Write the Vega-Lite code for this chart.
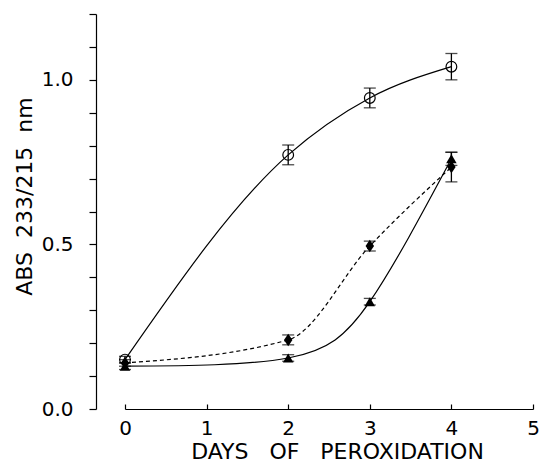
{
  "$schema": "https://vega.github.io/schema/vega-lite/v6.json",
  "width": 408,
  "height": 395,
  "autosize": {"type": "none"},
  "padding": {"left": 125, "top": 14, "right": 6, "bottom": 53},
  "background": "white",
  "config": {
    "view": {"stroke": null},
    "axis": {
      "grid": false,
      "domainColor": "black",
      "domainWidth": 1.2,
      "tickColor": "black",
      "tickWidth": 1.2,
      "labelColor": "black",
      "titleColor": "black",
      "labelFont": "DejaVu Sans",
      "titleFont": "DejaVu Sans",
      "labelFontWeight": "normal",
      "titleFontWeight": "normal"
    }
  },
  "data": {
    "values": [
      {"series": "A", "day": 0, "abs": 0.15, "err": 0.01},
      {"series": "A", "day": 2, "abs": 0.772, "err": 0.03},
      {"series": "A", "day": 3, "abs": 0.945, "err": 0.03},
      {"series": "A", "day": 4, "abs": 1.04, "err": 0.04},
      {"series": "B", "day": 0, "abs": 0.14, "err": 0.01},
      {"series": "B", "day": 2, "abs": 0.21, "err": 0.015},
      {"series": "B", "day": 3, "abs": 0.495, "err": 0.015},
      {"series": "B", "day": 4, "abs": 0.735, "err": 0.045},
      {"series": "C", "day": 0, "abs": 0.13, "err": 0.01},
      {"series": "C", "day": 2, "abs": 0.155, "err": 0.01},
      {"series": "C", "day": 3, "abs": 0.326, "err": 0.01},
      {"series": "C", "day": 4, "abs": 0.76, "err": 0.02}
    ]
  },
  "encoding": {
    "x": {
      "field": "day",
      "type": "quantitative",
      "scale": {"domain": [0, 5], "nice": false, "zero": false},
      "axis": {
        "values": [0, 1, 2, 3, 4, 5],
        "tickSize": -5,
        "labelFontSize": 20,
        "labelPadding": 14,
        "labelFlush": false,
        "title": "DAYS\u00a0\u00a0\u00a0OF\u00a0\u00a0\u00a0PEROXIDATION",
        "titleFontSize": 22,
        "titlePadding": 3,
        "titleX": 212
      }
    },
    "y": {
      "field": "abs",
      "type": "quantitative",
      "scale": {"domain": [0, 1.2], "nice": false},
      "axis": {
        "values": [0, 0.1, 0.2, 0.3, 0.4, 0.5, 0.6, 0.7, 0.8, 0.9, 1.0, 1.1, 1.2],
        "labelExpr": "abs(datum.value*2 - round(datum.value*2)) < 0.001 ? format(datum.value, '.1f') : ''",
        "offset": 29,
        "tickSize": 7,
        "labelFontSize": 20,
        "labelPadding": 16,
        "title": "ABS\u00a0\u00a0233/215\u00a0\u00a0nm",
        "titleFontSize": 22,
        "titlePadding": 5,
        "titleY": 182
      }
    }
  },
  "layer": [
    {
      "transform": [{"filter": "datum.series === 'A'"}],
      "mark": {"type": "line", "interpolate": "monotone", "color": "black", "strokeWidth": 1.2}
    },
    {
      "transform": [{"filter": "datum.series === 'B'"}],
      "mark": {"type": "line", "interpolate": "monotone", "color": "black", "strokeWidth": 1.2, "strokeDash": [4, 3]}
    },
    {
      "transform": [{"filter": "datum.series === 'C'"}],
      "mark": {"type": "line", "interpolate": "natural", "color": "black", "strokeWidth": 1.2}
    },
    {
      "mark": {"type": "errorbar", "ticks": {"size": 12, "thickness": 1.3}, "thickness": 1.3, "color": "black"},
      "encoding": {
        "yError": {"field": "err"},
        "detail": {"field": "series"}
      }
    },
    {
      "transform": [{"filter": "datum.series === 'A'"}],
      "mark": {"type": "point", "shape": "circle", "filled": false, "size": 115, "color": "black", "strokeWidth": 1.2, "opacity": 1}
    },
    {
      "transform": [{"filter": "datum.series === 'B'"}],
      "mark": {"type": "point", "shape": "M0,-1.25L0.85,0L0,1.25L-0.85,0Z", "filled": true, "size": 100, "color": "black", "opacity": 1}
    },
    {
      "transform": [{"filter": "datum.series === 'C'"}],
      "mark": {"type": "point", "shape": "triangle-up", "filled": true, "size": 110, "color": "black", "opacity": 1}
    }
  ]
}
